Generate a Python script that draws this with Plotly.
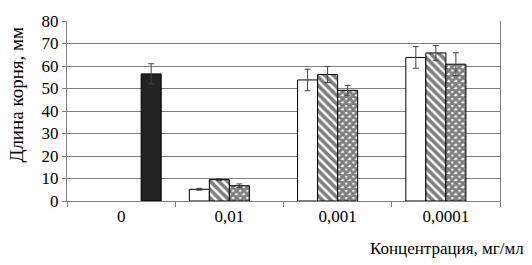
import plotly.graph_objects as go

categories = ["0", "0,01", "0,001", "0,0001"]
white_vals = [None, 5.2, 53.8, 63.8]
white_err = [0, 0.4, 4.8, 4.8]
hatch_vals = [None, 9.5, 56.2, 65.8]
hatch_err = [0, 0.4, 3.6, 3.3]
check_vals = [None, 6.8, 49.2, 60.8]
check_err = [0, 0.8, 2.2, 5.1]
dark_vals = [56.5, None, None, None]
dark_err = [4.5, 0, 0, 0]

y_title = "Длина корня, мм"
x_title = "Концентрация, мг/мл"

FONT = "Liberation Serif"
err_style = dict(type="data", color="#444444", thickness=1, width=3)

fig = go.Figure()
fig.add_trace(go.Bar(x=categories, y=white_vals,
                     error_y=dict(array=white_err, **err_style),
                     marker=dict(color="white", line=dict(color="black", width=1))))
fig.add_trace(go.Bar(x=categories, y=hatch_vals,
                     error_y=dict(array=hatch_err, **err_style),
                     marker=dict(color="white", line=dict(color="black", width=1),
                                 pattern=dict(shape="\\", fgcolor="black", bgcolor="white",
                                              size=6, solidity=0.6))))
fig.add_trace(go.Bar(x=categories, y=check_vals,
                     error_y=dict(array=check_err, **err_style),
                     marker=dict(color="white", line=dict(color="black", width=1),
                                 pattern=dict(shape="x", fgcolor="black", bgcolor="white",
                                              size=5, solidity=0.8))))
fig.add_trace(go.Bar(x=categories, y=dark_vals,
                     error_y=dict(array=dark_err, **err_style),
                     marker=dict(color="#222222", line=dict(color="black", width=1))))

fig.update_layout(
    width=532, height=265,
    margin=dict(l=67, r=32, t=18, b=64),
    barmode="group", bargap=0.26, bargroupgap=0,
    plot_bgcolor="white", paper_bgcolor="white",
    showlegend=False,
    font=dict(family=FONT, color="black", size=17),
    xaxis=dict(type="category", tickson="boundaries", ticks="outside", ticklen=5,
               tickcolor="#808080", showline=True, linecolor="#808080", linewidth=1,
               showgrid=False, tickfont=dict(size=17)),
    yaxis=dict(range=[0, 80], dtick=10, ticks="outside", ticklen=4,
               tickcolor="#808080", showline=True, linecolor="#808080", linewidth=1,
               mirror=True, showgrid=True, gridcolor="#808080", gridwidth=1,
               zeroline=False, tickfont=dict(size=17)),
    annotations=[
        dict(text=y_title, xref="paper", yref="paper", x=-0.116, y=0.59,
             textangle=-90, showarrow=False, font=dict(size=19, family=FONT),
             xanchor="center", yanchor="middle"),
        dict(text=x_title, xref="paper", yref="paper", x=1.06, y=-0.265,
             showarrow=False, font=dict(size=17, family=FONT),
             xanchor="right", yanchor="middle"),
    ],
)

fig.write_html("out.html")
